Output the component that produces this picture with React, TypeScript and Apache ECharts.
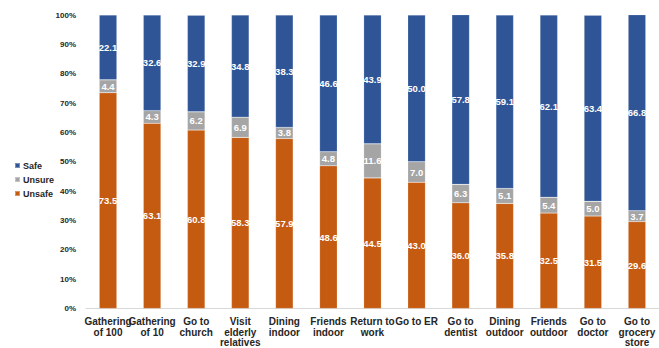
import React, { useEffect, useRef } from "react";
import * as echarts from "echarts";

const categories = [
  "Gathering\nof 100",
  "Gathering\nof 10",
  "Go to\nchurch",
  "Visit\nelderly\nrelatives",
  "Dining\nindoor",
  "Friends\nindoor",
  "Return to\nwork",
  "Go to ER",
  "Go to\ndentist",
  "Dining\noutdoor",
  "Friends\noutdoor",
  "Go to\ndoctor",
  "Go to\ngrocery\nstore",
];
const unsafe = [73.5, 63.1, 60.8, 58.3, 57.9, 48.6, 44.5, 43.0, 36.0, 35.8, 32.5, 31.5, 29.6];
const unsure = [4.4, 4.3, 6.2, 6.9, 3.8, 4.8, 11.6, 7.0, 6.3, 5.1, 5.4, 5.0, 3.7];
const safe = [22.1, 32.6, 32.9, 34.8, 38.3, 46.6, 43.9, 50.0, 57.8, 59.1, 62.1, 63.4, 66.8];
const yTicks = [0, 10, 20, 30, 40, 50, 60, 70, 80, 90, 100];

const FONT = "Liberation Sans, Arial, sans-serif";

export default function App() {
  const ref = useRef<HTMLDivElement>(null);
  useEffect(() => {
    if (!ref.current) return;
    const chart = echarts.init(ref.current, undefined, { renderer: "svg" });
    const label = {
      show: true,
      position: "inside",
      color: "#ffffff",
      fontWeight: "bold",
      fontSize: 9.5,
      fontFamily: FONT,
      formatter: (p: any) => Number(p.value).toFixed(1),
    };
    const mk = (name: string, data: number[], color: string) => ({
      name,
      type: "bar",
      stack: "total",
      data,
      barWidth: "40%",
      itemStyle: { color, borderColor: "rgba(255,255,255,0.35)", borderWidth: 0.5 },
      label,
    });
    chart.setOption({
      animation: false,
      grid: { left: 86, right: -7, top: 15, bottom: 38, containLabel: false },
      legend: {
        orient: "vertical",
        left: 9,
        top: 156,
        data: ["Safe", "Unsure", "Unsafe"],
        itemWidth: 5,
        itemHeight: 5,
        itemGap: 5,
        icon: "rect",
        textStyle: { fontSize: 9, fontWeight: "bold", color: "#262626", fontFamily: FONT, padding: [0, 0, 0, -2] },
      },
      xAxis: {
        type: "category",
        data: categories,
        axisLine: { show: true, lineStyle: { color: "#d9d9d9", width: 1 } },
        axisTick: { show: false },
        axisLabel: {
          interval: 0,
          margin: 8,
          fontSize: 10,
          fontWeight: "bold",
          color: "#262626",
          fontFamily: FONT,
          lineHeight: 10.5,
        },
      },
      yAxis: {
        type: "value",
        min: yTicks[0],
        max: yTicks[yTicks.length - 1],
        interval: 10,
        axisLine: { show: false },
        axisTick: { show: false },
        splitLine: { show: false },
        axisLabel: {
          margin: 10,
          fontSize: 8,
          fontWeight: "bold",
          color: "#262626",
          fontFamily: FONT,
          formatter: (v: number) => `${v}%`,
        },
      },
      series: [
        mk("Unsafe", unsafe, "#C55A11"),
        mk("Unsure", unsure, "#A5A5A5"),
        mk("Safe", safe, "#2F5597"),
      ],
    });
    return () => chart.dispose();
  }, []);
  return <div ref={ref} style={{ width: 659, height: 348, position: "absolute", left: 0, top: 0 }} />;
}
